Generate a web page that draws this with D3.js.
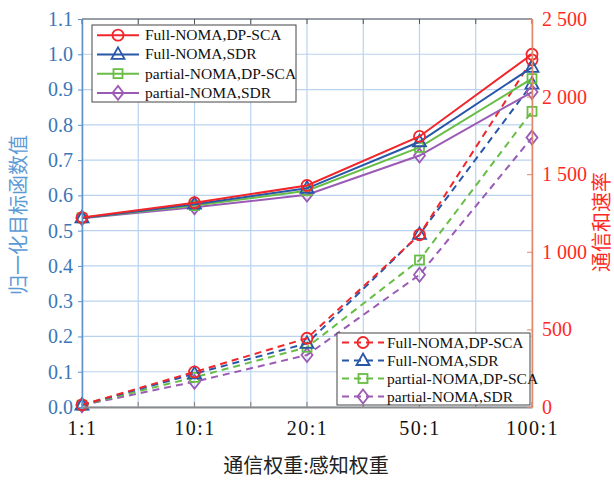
<!DOCTYPE html>
<html>
<head>
<meta charset="utf-8">
<script src="https://cdn.jsdelivr.net/npm/d3@7"></script>
<style>
  body { margin: 0; background: #fff; }
  svg { display: block; }
</style>
</head>
<body>
<svg width="614" height="480"></svg>
<script>
// x categories (通信权重:感知权重)
var categories = ["1:1", "10:1", "20:1", "50:1", "100:1"];

var seriesNames = ["Full-NOMA,DP-SCA", "Full-NOMA,SDR", "partial-NOMA,DP-SCA", "partial-NOMA,SDR"];

// normalized objective value (left axis, solid lines)
var objFullDpsca = [0.537, 0.579, 0.628, 0.767, 1.000];
var objFullSdr = [0.536, 0.575, 0.620, 0.752, 0.963];
var objPartDpsca = [0.536, 0.571, 0.613, 0.736, 0.931];
var objPartSdr = [0.535, 0.566, 0.602, 0.713, 0.893];

// sum communication rate (right axis, dashed lines)
var rateFullDpsca = [14, 226, 443, 1110, 2236];
var rateFullSdr = [13, 214, 410, 1112, 2081];
var ratePartDpsca = [12, 191, 385, 947, 1905];
var ratePartSdr = [11, 163, 335, 852, 1736];

var leftTicks = [0, 0.1, 0.2, 0.3, 0.4, 0.5, 0.6, 0.7, 0.8, 0.9, 1.0, 1.1];
var rightTicks = [0, 500, 1000, 1500, 2000, 2500];

var colors = ["#f0262b", "#2857a8", "#68bd45", "#9b5bb5"];
var markers = ["circle", "triangle", "square", "diamond"];

var SERIF = "Liberation Serif, serif";
var CJK = "Noto Sans CJK SC, sans-serif";

makeChart();

function makeChart() {
  var svg = d3.select("svg");
  var left = 82, right = 532, top = 19, bottom = 407;

  var x = d3.scalePoint().domain(categories).range([left, right]);
  var yL = d3.scaleLinear().domain([0, 1.1]).range([bottom, top]);
  var yR = d3.scaleLinear().domain([0, 2500]).range([bottom, top]);

  // half-step positions for grid and minor ticks
  var gridX = [];
  categories.forEach(function(c, i) {
    gridX.push(x(c));
    if (i < categories.length - 1) gridX.push((x(c) + x(categories[i + 1])) / 2);
  });

  var grid = svg.append("g").attr("class", "grid");
  grid.selectAll("line.v")
    .data(gridX)
    .enter().append("line")
    .attr("x1", function(d) { return d; })
    .attr("x2", function(d) { return d; })
    .attr("y1", top).attr("y2", bottom)
    .attr("stroke", "#b9d3ef").attr("stroke-width", 1.2);
  grid.selectAll("line.h")
    .data(leftTicks)
    .enter().append("line")
    .attr("x1", left).attr("x2", right)
    .attr("y1", function(d) { return yL(d); })
    .attr("y2", function(d) { return yL(d); })
    .attr("stroke", "#b9d3ef").attr("stroke-width", 1.2);

  var objSeries = [objFullDpsca, objFullSdr, objPartDpsca, objPartSdr];
  var rateSeries = [rateFullDpsca, rateFullSdr, ratePartDpsca, ratePartSdr];

  var lineL = d3.line()
    .x(function(d, i) { return x(categories[i]); })
    .y(function(d) { return yL(d); });
  var lineR = d3.line()
    .x(function(d, i) { return x(categories[i]); })
    .y(function(d) { return yR(d); });

  // dashed rate lines first, solid objective lines on top
  for (var s = 3; s >= 0; s--) {
    svg.append("path")
      .datum(rateSeries[s])
      .attr("d", lineR)
      .attr("fill", "none")
      .attr("stroke", colors[s])
      .attr("stroke-width", 2)
      .attr("stroke-dasharray", "7,5");
    drawMarkers(svg, rateSeries[s].map(function(v, i) { return [x(categories[i]), yR(v)]; }), s);
  }
  for (var s = 3; s >= 0; s--) {
    svg.append("path")
      .datum(objSeries[s])
      .attr("d", lineL)
      .attr("fill", "none")
      .attr("stroke", colors[s])
      .attr("stroke-width", 2);
    drawMarkers(svg, objSeries[s].map(function(v, i) { return [x(categories[i]), yL(v)]; }), s);
  }

  // top border with minor ticks
  svg.append("line")
    .attr("x1", left).attr("x2", right).attr("y1", top).attr("y2", top)
    .attr("stroke", "#555").attr("stroke-width", 1);
  svg.append("g").selectAll("line")
    .data(gridX)
    .enter().append("line")
    .attr("x1", function(d) { return d; }).attr("x2", function(d) { return d; })
    .attr("y1", top).attr("y2", top + 5)
    .attr("stroke", "#555");

  // bottom axis
  var xAxis = svg.append("g")
    .attr("transform", "translate(0," + bottom + ")")
    .call(d3.axisBottom(x).tickSizeInner(0).tickSizeOuter(0).tickPadding(14));
  xAxis.attr("font-family", null).attr("font-size", null);
  xAxis.select(".domain").attr("stroke", "#8a8a8a").attr("stroke-width", 2);
  xAxis.selectAll("text")
    .style("font-family", SERIF)
    .style("font-size", "20px")
    .attr("fill", "#111")
    .style("letter-spacing", "1.5px");
  svg.append("g").selectAll("line")
    .data(gridX)
    .enter().append("line")
    .attr("x1", function(d) { return d; }).attr("x2", function(d) { return d; })
    .attr("y1", bottom).attr("y2", bottom - 5)
    .attr("stroke", "#8a8a8a").attr("stroke-width", 1.2);

  // left axis
  var yAxisL = svg.append("g")
    .attr("transform", "translate(" + left + ",0)")
    .call(d3.axisLeft(yL).tickValues(leftTicks).tickFormat(d3.format(".1f"))
      .tickSizeInner(4).tickSizeOuter(0).tickPadding(5));
  yAxisL.attr("font-family", null).attr("font-size", null);
  yAxisL.select(".domain").attr("stroke", "#5e92cc").attr("stroke-width", 1.5);
  yAxisL.selectAll(".tick line").attr("stroke", "#5e92cc");
  yAxisL.selectAll("text")
    .style("font-family", SERIF)
    .style("font-size", "20px")
    .attr("fill", "#3a77b9");

  // right axis
  var yAxisR = svg.append("g")
    .attr("transform", "translate(" + right + ",0)")
    .call(d3.axisRight(yR).tickValues(rightTicks)
      .tickFormat(function(d) { return d3.format(",")(d).replace(",", " "); })
      .tickSizeInner(-5).tickSizeOuter(0).tickPadding(10));
  yAxisR.attr("font-family", null).attr("font-size", null);
  yAxisR.select(".domain").attr("stroke", "#e2866a").attr("stroke-width", 1.5);
  yAxisR.selectAll(".tick line").attr("stroke", "#e2866a");
  yAxisR.selectAll("text")
    .style("font-family", SERIF)
    .style("font-size", "20px")
    .attr("fill", "#ff2a1f");

  // axis titles
  svg.append("text")
    .attr("transform", "translate(26,215) rotate(-90)")
    .attr("text-anchor", "middle")
    .style("font-family", CJK)
    .style("font-size", "20px")
    .attr("fill", "#5b9bd5")
    .text("归一化目标函数值");
  svg.append("text")
    .attr("transform", "translate(609,222) rotate(-90)")
    .attr("text-anchor", "middle")
    .style("font-family", CJK)
    .style("font-size", "20px")
    .attr("fill", "#ff2a1f")
    .text("通信和速率");
  svg.append("text")
    .attr("x", 306).attr("y", 473)
    .attr("text-anchor", "middle")
    .style("font-family", CJK)
    .style("font-size", "20px")
    .attr("fill", "#222")
    .text("通信权重:感知权重");

  // legends
  drawLegend(svg, 92, 25, 204, 77, false);
  drawLegend(svg, 337, 333, 193, 72, true);
}

function drawMarkers(svg, pts, s) {
  var g = svg.append("g");
  pts.forEach(function(p) {
    drawMarker(g, p[0], p[1], s);
  });
}

function drawMarker(g, cx, cy, s) {
  var type = markers[s];
  var el;
  if (type == "circle") {
    el = g.append("circle").attr("cx", cx).attr("cy", cy).attr("r", 5.5);
  } else if (type == "triangle") {
    el = g.append("path").attr("d", "M" + cx + "," + (cy - 7) + "L" + (cx + 6.5) + "," + (cy + 4.5) + "L" + (cx - 6.5) + "," + (cy + 4.5) + "Z");
  } else if (type == "square") {
    el = g.append("rect").attr("x", cx - 4.5).attr("y", cy - 4.5).attr("width", 9).attr("height", 9);
  } else {
    el = g.append("path").attr("d", "M" + cx + "," + (cy - 7) + "L" + (cx + 5.5) + "," + cy + "L" + cx + "," + (cy + 7) + "L" + (cx - 5.5) + "," + cy + "Z");
  }
  el.attr("fill", "none").attr("stroke", colors[s]).attr("stroke-width", 1.8);
}

function drawLegend(svg, lx, ly, w, h, dashed) {
  var g = svg.append("g");
  g.append("rect")
    .attr("x", lx).attr("y", ly).attr("width", w).attr("height", h)
    .attr("fill", "#fff").attr("stroke", "#444").attr("stroke-width", 1);
  var step = h / 4;
  seriesNames.forEach(function(name, i) {
    var yy = ly + step * (i + 0.5) + 0.5;
    g.append("line")
      .attr("x1", lx + 5).attr("x2", lx + 47)
      .attr("y1", yy).attr("y2", yy)
      .attr("stroke", colors[i]).attr("stroke-width", 2)
      .attr("stroke-dasharray", dashed ? "7,5" : null);
    drawMarker(g, lx + 26, yy, i);
    g.append("text")
      .attr("x", lx + (dashed ? 50 : 53)).attr("y", yy + 5)
      .style("font-family", SERIF)
      .style("font-size", "15.5px")
      .attr("fill", "#111")
      .text(name);
  });
}
</script>
</body>
</html>
